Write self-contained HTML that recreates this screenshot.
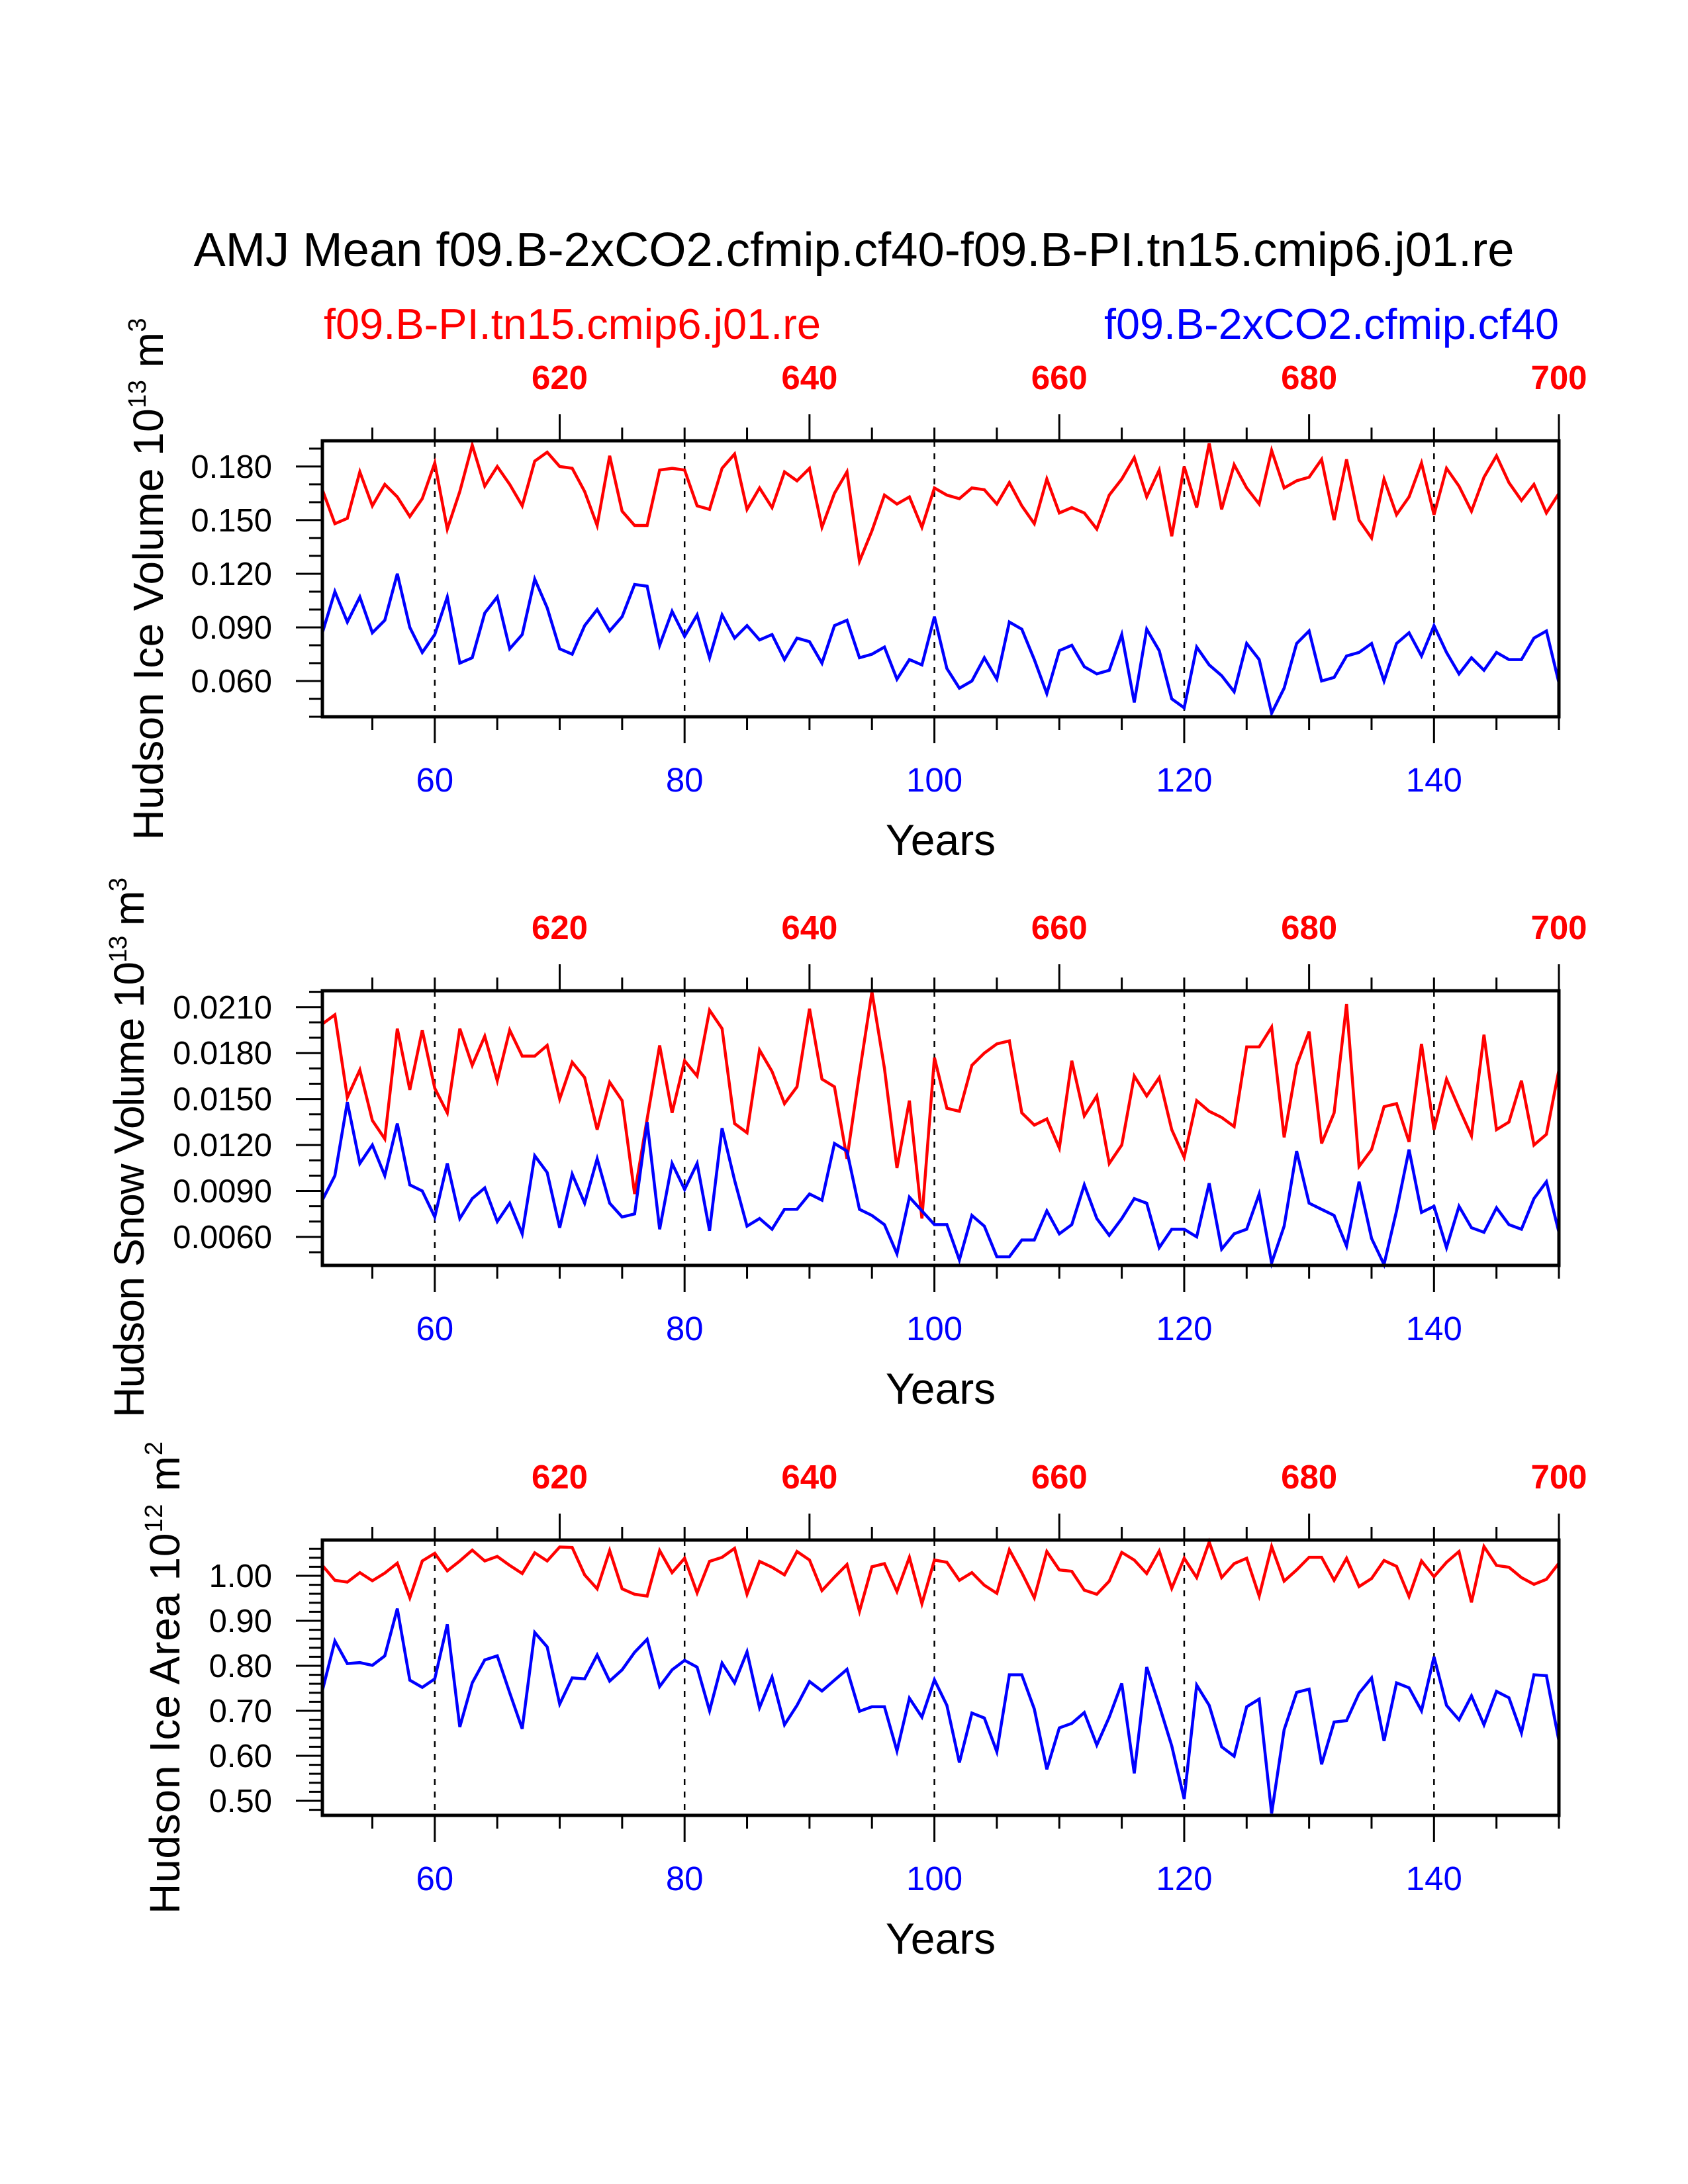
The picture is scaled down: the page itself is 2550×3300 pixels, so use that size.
<!DOCTYPE html>
<html>
<head>
<meta charset="utf-8">
<style>
html,body{margin:0;padding:0;background:#fff;}
svg{display:block;}
text{font-family:"Liberation Sans",Arial,sans-serif;}
</style>
</head>
<body>
<svg id="chart" width="2550" height="3300" viewBox="0 0 2550 3300" xmlns="http://www.w3.org/2000/svg">
  <rect x="0" y="0" width="2550" height="3300" fill="#fff"/>
  <text x="1290" y="402" font-size="72" text-anchor="middle" textLength="1995" lengthAdjust="spacingAndGlyphs">AMJ Mean f09.B-2xCO2.cfmip.cf40-f09.B-PI.tn15.cmip6.j01.re</text>
  <text x="489" y="512" font-size="65" fill="#ff0000" textLength="751" lengthAdjust="spacingAndGlyphs">f09.B-PI.tn15.cmip6.j01.re</text>
  <text x="2355" y="512" font-size="65" fill="#0000ff" text-anchor="end" textLength="687" lengthAdjust="spacingAndGlyphs">f09.B-2xCO2.cfmip.cf40</text>
  <g id="panels"></g>
</svg>
<script>
// ---- data (years 51..150 for 2xCO2; 601..700 for PI) ----
const yearStart = 51;
const yearCount = 100;
const topYearOffset = 550;

const iceVolPI = [0.167,0.148,0.151,0.177,0.158,0.170,0.163,0.152,0.162,0.182,0.145,0.166,0.192,0.169,0.180,0.170,0.158,0.183,0.188,0.180,0.179,0.166,0.147,0.186,0.155,0.147,0.147,0.178,0.179,0.178,0.158,0.156,0.179,0.187,0.156,0.168,0.157,0.177,0.172,0.179,0.146,0.165,0.177,0.127,0.144,0.164,0.159,0.163,0.146,0.168,0.164,0.162,0.168,0.167,0.159,0.171,0.158,0.148,0.173,0.154,0.157,0.154,0.145,0.164,0.173,0.185,0.163,0.178,0.141,0.180,0.157,0.193,0.156,0.181,0.168,0.159,0.189,0.168,0.172,0.174,0.184,0.150,0.184,0.150,0.140,0.173,0.153,0.163,0.182,0.153,0.179,0.169,0.155,0.174,0.186,0.171,0.161,0.170,0.154,0.165];
const iceVolCO2 = [0.087,0.110,0.093,0.107,0.087,0.094,0.120,0.090,0.076,0.086,0.107,0.070,0.073,0.098,0.107,0.078,0.086,0.117,0.101,0.078,0.075,0.091,0.100,0.088,0.096,0.114,0.113,0.080,0.099,0.085,0.097,0.073,0.097,0.084,0.091,0.083,0.086,0.072,0.084,0.082,0.070,0.091,0.094,0.073,0.075,0.079,0.061,0.072,0.069,0.096,0.067,0.056,0.060,0.073,0.061,0.093,0.089,0.072,0.053,0.077,0.080,0.068,0.064,0.066,0.086,0.048,0.089,0.077,0.050,0.045,0.079,0.069,0.063,0.054,0.081,0.072,0.042,0.056,0.081,0.088,0.060,0.062,0.074,0.076,0.081,0.060,0.081,0.087,0.074,0.091,0.076,0.064,0.073,0.066,0.076,0.072,0.072,0.084,0.088,0.059];

const snowVolPI = [0.0199,0.0205,0.0151,0.0169,0.0136,0.0124,0.0196,0.0156,0.0195,0.0157,0.0141,0.0196,0.0172,0.0191,0.0162,0.0195,0.0178,0.0178,0.0185,0.0150,0.0174,0.0164,0.0130,0.0161,0.0149,0.0088,0.0137,0.0185,0.0141,0.0175,0.0165,0.0208,0.0196,0.0134,0.0128,0.0182,0.0168,0.0147,0.0158,0.0209,0.0163,0.0158,0.0111,0.0167,0.0220,0.0170,0.0105,0.0149,0.0072,0.0177,0.0144,0.0142,0.0172,0.0180,0.0186,0.0188,0.0141,0.0133,0.0137,0.0118,0.0175,0.0139,0.0152,0.0108,0.0120,0.0165,0.0152,0.0164,0.0130,0.0112,0.0149,0.0142,0.0138,0.0132,0.0184,0.0184,0.0197,0.0125,0.0172,0.0194,0.0121,0.0141,0.0212,0.0106,0.0117,0.0145,0.0147,0.0122,0.0186,0.0130,0.0163,0.0144,0.0126,0.0192,0.0130,0.0135,0.0162,0.0120,0.0127,0.0169];
const snowVolCO2 = [0.0084,0.0100,0.0148,0.0108,0.0120,0.0100,0.0134,0.0094,0.0090,0.0073,0.0108,0.0072,0.0085,0.0092,0.0070,0.0082,0.0062,0.0113,0.0102,0.0066,0.0101,0.0082,0.0111,0.0082,0.0073,0.0075,0.0135,0.0065,0.0108,0.0091,0.0108,0.0064,0.0131,0.0097,0.0067,0.0072,0.0065,0.0078,0.0078,0.0088,0.0084,0.0121,0.0116,0.0078,0.0074,0.0068,0.0049,0.0086,0.0077,0.0068,0.0068,0.0045,0.0074,0.0067,0.0047,0.0047,0.0058,0.0058,0.0077,0.0062,0.0068,0.0094,0.0072,0.0061,0.0072,0.0085,0.0082,0.0053,0.0065,0.0065,0.0060,0.0095,0.0052,0.0062,0.0065,0.0088,0.0043,0.0067,0.0116,0.0082,0.0078,0.0074,0.0054,0.0096,0.0059,0.0042,0.0077,0.0117,0.0076,0.0080,0.0053,0.0080,0.0066,0.0063,0.0079,0.0068,0.0065,0.0085,0.0096,0.0063];

const iceAreaPI = [1.023,0.990,0.986,1.007,0.989,1.006,1.028,0.951,1.033,1.050,1.011,1.033,1.057,1.033,1.043,1.023,1.005,1.051,1.033,1.064,1.063,1.002,0.971,1.056,0.971,0.959,0.955,1.056,1.007,1.039,0.962,1.032,1.041,1.061,0.959,1.032,1.019,1.002,1.054,1.035,0.967,0.997,1.025,0.921,1.020,1.027,0.965,1.041,0.938,1.035,1.030,0.990,1.007,0.979,0.961,1.058,1.007,0.951,1.054,1.013,1.010,0.968,0.959,0.988,1.052,1.035,1.005,1.055,0.972,1.039,0.996,1.075,0.996,1.027,1.039,0.955,1.065,0.988,1.013,1.041,1.041,0.990,1.039,0.976,0.994,1.034,1.021,0.954,1.033,0.998,1.030,1.054,0.941,1.065,1.023,1.019,0.996,0.981,0.992,1.028];
const iceAreaCO2 = [0.745,0.855,0.805,0.807,0.801,0.822,0.927,0.768,0.752,0.771,0.892,0.664,0.762,0.813,0.822,0.740,0.660,0.874,0.842,0.715,0.773,0.771,0.824,0.766,0.791,0.830,0.859,0.754,0.791,0.812,0.797,0.700,0.806,0.762,0.831,0.707,0.775,0.669,0.712,0.765,0.744,0.768,0.792,0.699,0.709,0.709,0.611,0.728,0.686,0.769,0.712,0.585,0.695,0.684,0.609,0.780,0.780,0.704,0.570,0.662,0.672,0.696,0.624,0.686,0.761,0.561,0.797,0.712,0.622,0.504,0.757,0.712,0.620,0.599,0.709,0.726,0.472,0.658,0.741,0.748,0.581,0.675,0.678,0.739,0.773,0.633,0.762,0.751,0.700,0.820,0.712,0.680,0.733,0.669,0.743,0.729,0.651,0.780,0.778,0.633];

const bottomTickLabels = [60,80,100,120,140];
const topTickLabels = [620,640,660,680,700];
const iceVolTicks = ["0.060","0.090","0.120","0.150","0.180"];
const snowVolTicks = ["0.0060","0.0090","0.0120","0.0150","0.0180","0.0210"];
const iceAreaTicks = ["0.50","0.60","0.70","0.80","0.90","1.00"];

// ---- layout ----
const NS = "http://www.w3.org/2000/svg";
const X0 = 487, X1 = 2355;
function xScale(yr){ return X0 + (yr - yearStart) * (X1 - X0) / (yearStart + yearCount - 1 - yearStart); }

const panels = [
  {name:"ice-volume", top:666, bottom:1083, ymin:0.04, ymax:0.1944, minorStep:0.01, ticks:iceVolTicks,
   red:iceVolPI, blue:iceVolCO2, titleMain:"Hudson Ice Volume 10", exp1:"13", unit:" m", exp2:"3", titleX:246, titleY:875, titleLen:789},
  {name:"snow-volume", top:1497, bottom:1912, ymin:0.00414, ymax:0.02207, minorStep:0.001, ticks:snowVolTicks,
   red:snowVolPI, blue:snowVolCO2, titleMain:"Hudson Snow Volume 10", exp1:"13", unit:" m", exp2:"3", titleX:217, titleY:1734, titleLen:816},
  {name:"ice-area", top:2327, bottom:2743, ymin:0.4676, ymax:1.0794, minorStep:0.02, ticks:iceAreaTicks,
   red:iceAreaPI, blue:iceAreaCO2, titleMain:"Hudson Ice Area 10", exp1:"12", unit:" m", exp2:"2", titleX:271, titleY:2535, titleLen:714}
];

const root = document.getElementById('panels');
function mk(tag, attrs, parent){
  const e = document.createElementNS(NS, tag);
  for (const k in attrs) e.setAttribute(k, attrs[k]);
  (parent||root).appendChild(e);
  return e;
}

panels.forEach(p => {
  const g = mk('g', {});
  
  
  const yS = v => p.bottom - (v - p.ymin) * (p.bottom - p.top) / (p.ymax - p.ymin);

  bottomTickLabels.forEach(yr => {
    const l = mk('line', {x1:xScale(yr), x2:xScale(yr), y1:p.top, y2:p.bottom, stroke:'#000', 'stroke-width':2.5, 'stroke-dasharray':'9 10'}, g);
    
    
  });

  const mkLine = (vals, color, nm) => {
    const pts = vals.map((v,i) => xScale(yearStart+i).toFixed(1) + ',' + yS(v).toFixed(1)).join(' ');
    const pl = mk('polyline', {points:pts, fill:'none', stroke:color, 'stroke-width':4.5, 'stroke-linejoin':'miter'}, g);
    
    
  };
  mkLine(p.red, '#ff0000', p.name + '-pi-line');
  mkLine(p.blue, '#0000ff', p.name + '-2xco2-line');

  const fr = mk('rect', {x:X0, y:p.top, width:X1-X0, height:p.bottom-p.top, fill:'none', stroke:'#000', 'stroke-width':5}, g);
  
  

  const xt = mk('g', {}, g);
  
  
  for (let yr = 55; yr <= 150; yr += 5){
    const x = xScale(yr);
    const bMajor = bottomTickLabels.includes(yr);
    mk('line', {x1:x, x2:x, y1:p.bottom, y2:p.bottom + (bMajor?40:20), stroke:'#000', 'stroke-width':3}, xt);
    const tMajor = topTickLabels.includes(yr + topYearOffset);
    mk('line', {x1:x, x2:x, y1:p.top, y2:p.top - (tMajor?40:20), stroke:'#000', 'stroke-width':3}, xt);
  }
  bottomTickLabels.forEach(yr => {
    const t = mk('text', {x:xScale(yr), y:p.bottom+113, 'font-size':51, fill:'#0000ff', 'text-anchor':'middle'}, g);
    t.textContent = yr;
    
    
  });
  topTickLabels.forEach(yr => {
    const t = mk('text', {x:xScale(yr - topYearOffset), y:p.top-78, 'font-size':51, 'font-weight':'bold', fill:'#ff0000', 'text-anchor':'middle'}, g);
    t.textContent = yr;
    
    
  });
  const xl = mk('text', {x:(X0+X1)/2, y:p.bottom+209, 'font-size':66, fill:'#000', 'text-anchor':'middle'}, g);
  xl.textContent = 'Years';
  
  

  const yt = mk('g', {}, g);
  
  
  const majors = p.ticks.map(Number);
  const start = Math.ceil(p.ymin / p.minorStep - 1e-6);
  for (let k = start; k * p.minorStep <= p.ymax + 1e-9; k++){
    const v = k * p.minorStep;
    const isMajor = majors.some(m => Math.abs(m - v) < p.minorStep*0.1);
    const y = yS(v);
    mk('line', {x1:X0, x2:X0 - (isMajor?40:20), y1:y, y2:y, stroke:'#000', 'stroke-width':3}, yt);
  }
  p.ticks.forEach(lbl => {
    const t = mk('text', {x:411, y:yS(Number(lbl))+17, 'font-size':49, fill:'#000', 'text-anchor':'end'}, g);
    t.textContent = lbl;
    
    
  });

  const tt = mk('text', {x:0, y:0, 'font-size':64, fill:'#000', 'text-anchor':'middle',
    transform:'translate(' + p.titleX + ',' + p.titleY + ') rotate(-90)', textLength:p.titleLen, lengthAdjust:'spacing'}, g);
  
  
  const s1 = mk('tspan', {}, tt); s1.textContent = p.titleMain;
  const s2 = mk('tspan', {dy:-26, 'font-size':38}, tt); s2.textContent = p.exp1;
  const s3 = mk('tspan', {dy:26}, tt); s3.textContent = p.unit;
  const s4 = mk('tspan', {dy:-26, 'font-size':38}, tt); s4.textContent = p.exp2;
});
</script>
</body>
</html>
